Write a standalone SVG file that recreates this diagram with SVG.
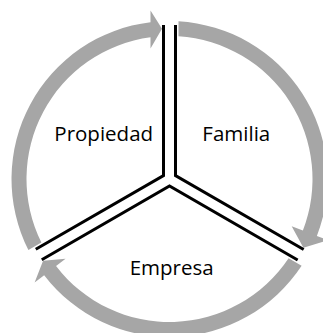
<svg xmlns="http://www.w3.org/2000/svg" width="323" height="333" viewBox="0 0 323 333">
<style>
.arc{fill:#A6A6A6;stroke:none}
.arm{fill:none;stroke:#000;stroke-width:3;stroke-linejoin:miter}
.lbl{font-family:"Open Sans","Liberation Sans",sans-serif;font-size:20.5px;fill:#000;text-anchor:middle}
</style>
<rect width="323" height="333" fill="#fff"/>
<g id="cycle-arrows">
<path id="arrow-propiedad" class="arc" d="M28.40,250.08 A158,158 0 0 1 150.5,22.15 L150.5,10.5 L162,28.69 L150.5,48.5 L150.5,37.27 A143,143 0 0 0 41.40,242.57 Z"/>
<path id="arrow-familia" class="arc" d="M178.5,21.26 A158,158 0 0 1 316.87,235.98 L328.06,240.31 L303.42,247.66 L291.68,226.24 L302.88,230.57 A143,143 0 0 0 178.5,36.28 Z"/>
<path id="arrow-empresa" class="arc" d="M301.60,265.66 A158,158 0 0 1 44.15,275.18 L34.63,282.49 L43.08,260.66 L65.57,258.75 L56.05,266.05 A143,143 0 0 0 288.60,258.15 Z"/>
</g>
<g id="dividers">
<path class="arm" d="M163.5,25 V175.54 L35.76,249.29"/>
<path class="arm" d="M175.5,25 V175.54 L303.67,249.54"/>
<path class="arm" d="M41.76,259.68 L169.5,185.93 L297.67,259.93"/>
</g>
<g id="propiedad"><text class="lbl" x="103.7" y="141">Propiedad</text></g>
<g id="familia"><text class="lbl" x="236.3" y="141">Familia</text></g>
<g id="empresa"><text class="lbl" x="171.7" y="275">Empresa</text></g>
</svg>
